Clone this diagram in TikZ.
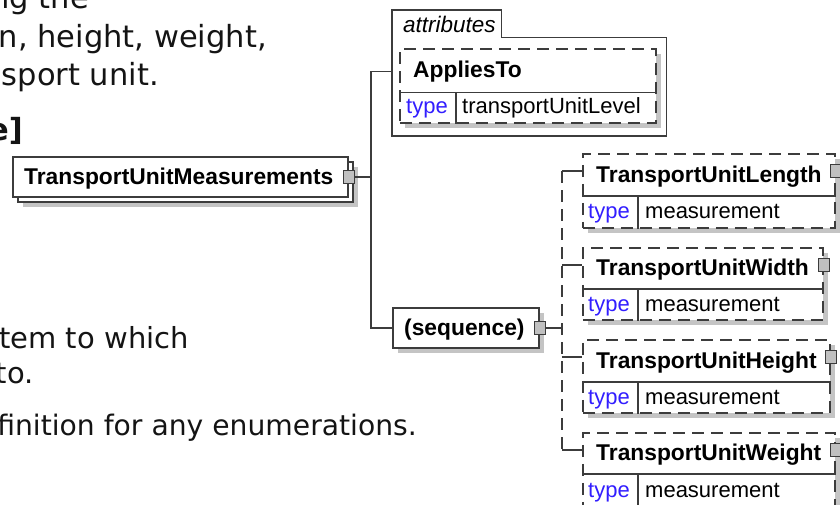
\documentclass[tikz,border=0pt]{standalone}
\usepackage{fontspec}
\setmainfont{Liberation Sans}
\newfontfamily\prosefont{DejaVu Sans}
\usetikzlibrary{positioning,shadows}
\definecolor{lncol}{RGB}{60,60,60}
\definecolor{shcol}{RGB}{196,196,196}
\definecolor{pluscol}{RGB}{192,192,192}
\definecolor{typecol}{RGB}{50,30,255}
\definecolor{prosecol}{RGB}{20,20,20}

\begin{document}
\begin{tikzpicture}[
  x=1pt, y=-1pt,
  ln/.style={draw=lncol,line width=1.7pt},
  dsh/.style={dash pattern=on 12pt off 7pt},
  frame/.style={ln,fill=white,anchor=north west,inner sep=0pt,
    drop shadow={shadow xshift=5pt,shadow yshift=-5pt,fill=shcol,opacity=1}},
  optframe/.style={frame,dsh},
  rootframe/.style={ln,fill=white,anchor=north west,inner sep=0pt,
    drop shadow={shadow xshift=10pt,shadow yshift=-10pt,fill=shcol,opacity=1},
    copy shadow={shadow xshift=5pt,shadow yshift=-5pt,draw=lncol,line width=1.7pt,fill=white}},
  nm/.style={anchor=base west,inner sep=0pt,font=\bfseries\fontsize{22.8}{27}\selectfont},
  tp/.style={anchor=base west,inner sep=0pt,text=typecol,font=\fontsize{22}{26}\selectfont},
  vl/.style={anchor=base west,inner sep=0pt,font=\fontsize{22}{26}\selectfont},
  att/.style={anchor=base west,inner sep=0pt,font=\itshape\fontsize{22.5}{26}\selectfont},
  plus/.style={draw=lncol,line width=1.2pt,fill=pluscol,minimum width=11pt,minimum height=13pt,inner sep=0pt},
  prose/.style={anchor=base east,inner sep=0pt,text=prosecol,font=\prosefont\fontsize{30.5}{36}\selectfont},
  prosesm/.style={prose,font=\prosefont\fontsize{29}{34}\selectfont}
]
\useasboundingbox (0,0) rectangle (840,504);
\clip (0,0) rectangle (840,504);

% text of the page behind the diagram
\node[prose] (p1) at (89,8) {ng the};
\node[prose] (p2) at (267,47) {n, height, weight,};
\node[prose] (p3) at (159,85) {sport unit.};
\node[prose,font=\prosefont\bfseries\fontsize{30.5}{36}\selectfont] (p4) at (23,140) {e]};
\node[prosesm] (p5) at (189,348) {tem to which};
\node[prosesm] (p6) at (34,383) {to.};
\node[prosesm,font=\prosefont\fontsize{28.2}{34}\selectfont] (p7) at (417,435) {finition for any enumerations.};

% root element
\node[rootframe,minimum width=335pt,minimum height=40pt] (rootF) at (12,156) {};
\node[nm] (rootN) at ([shift={(12,28)}]rootF.north west) {TransportUnitMeasurements};
\node[plus] (rootP) at (rootF.east) {};

% attributes group
\node[anchor=north west,inner sep=0pt,minimum width=109pt,minimum height=27pt] (attT) at (392,10) {};
\node[anchor=north west,inner sep=0pt,minimum width=274pt,minimum height=98pt] (attB) at (attT.south west) {};
\draw[ln] (attB.south west) -- (attT.north west) -- (attT.north east) -- (attT.south east)
  -- (attB.north east) -- (attB.south east) -- cycle;
\node[att] (attL) at ([shift={(11,22)}]attT.north west) {attributes};
\node[optframe,minimum width=256pt,minimum height=74pt] (appF) at ([shift={(7,11)}]attB.north west) {};
\draw[ln] ([shift={(0,44)}]appF.north west) -- ([shift={(0,44)}]appF.north east);
\draw[ln] ([shift={(57,44)}]appF.north west) -- ([shift={(57,0)}]appF.south west);
\node[nm] (appN) at ([shift={(14,29)}]appF.north west) {AppliesTo};
\node[tp] (appK) at ([shift={(7,65)}]appF.north west) {type};
\node[vl] (appV) at ([shift={(63,65)}]appF.north west) {transportUnitLevel};

% sequence
\node[frame,minimum width=146pt,minimum height=40pt] (seqF) at (392,307) {};
\node[nm] (seqN) at ([shift={(12,28)}]seqF.north west) {(sequence)};
\node[plus] (seqP) at (seqF.east) {};

% child elements
\node[optframe,minimum width=252pt,minimum height=74pt] (lenF) at (582,153) {};
\draw[ln] ([shift={(0,43)}]lenF.north west) -- ([shift={(0,43)}]lenF.north east);
\draw[ln] ([shift={(56,43)}]lenF.north west) -- ([shift={(56,0)}]lenF.south west);
\node[nm] (lenN) at ([shift={(14,29)}]lenF.north west) {TransportUnitLength};
\node[tp] (lenK) at ([shift={(6,65)}]lenF.north west) {type};
\node[vl] (lenV) at ([shift={(63,65)}]lenF.north west) {measurement};
\node[plus] (lenP) at ([shift={(0,18)}]lenF.north east) {};

\node[optframe,minimum width=240pt,minimum height=72pt] (widF) at (582,247) {};
\draw[ln] ([shift={(0,42)}]widF.north west) -- ([shift={(0,42)}]widF.north east);
\draw[ln] ([shift={(56,42)}]widF.north west) -- ([shift={(56,0)}]widF.south west);
\node[nm] (widN) at ([shift={(14,28)}]widF.north west) {TransportUnitWidth};
\node[tp] (widK) at ([shift={(6,64)}]widF.north west) {type};
\node[vl] (widV) at ([shift={(63,64)}]widF.north west) {measurement};
\node[plus] (widP) at ([shift={(0,18)}]widF.north east) {};

\node[optframe,minimum width=247pt,minimum height=73pt] (hgtF) at (582,339) {};
\draw[ln] ([shift={(0,43)}]hgtF.north west) -- ([shift={(0,43)}]hgtF.north east);
\draw[ln] ([shift={(56,43)}]hgtF.north west) -- ([shift={(56,0)}]hgtF.south west);
\node[nm] (hgtN) at ([shift={(14,29)}]hgtF.north west) {TransportUnitHeight};
\node[tp] (hgtK) at ([shift={(6,65)}]hgtF.north west) {type};
\node[vl] (hgtV) at ([shift={(63,65)}]hgtF.north west) {measurement};
\node[plus] (hgtP) at ([shift={(0,18)}]hgtF.north east) {};

\node[optframe,minimum width=252pt,minimum height=73pt] (wgtF) at (582,432) {};
\draw[ln] ([shift={(0,42)}]wgtF.north west) -- ([shift={(0,42)}]wgtF.north east);
\draw[ln] ([shift={(56,42)}]wgtF.north west) -- ([shift={(56,0)}]wgtF.south west);
\node[nm] (wgtN) at ([shift={(14,28)}]wgtF.north west) {TransportUnitWeight};
\node[tp] (wgtK) at ([shift={(6,65)}]wgtF.north west) {type};
\node[vl] (wgtV) at ([shift={(63,65)}]wgtF.north west) {measurement};
\node[plus] (wgtP) at ([shift={(0,18)}]wgtF.north east) {};

% connectors
\draw[ln] (rootP.east) -- ++(16,0) coordinate (forkA);
\draw[ln] (attB.west |- appN) -| (forkA) |- (seqF.west);
\draw[ln] (seqP.east) -- ++(16,0) coordinate (forkB);
\draw[ln,dsh] (forkB |- lenP) -- (forkB |- wgtP);
\draw[ln] (forkB |- lenP) -- (lenF.west |- lenP)
  (forkB |- widP) -- (widF.west |- widP)
  (forkB |- hgtP) -- (hgtF.west |- hgtP)
  (forkB |- wgtP) -- (wgtF.west |- wgtP);
\end{tikzpicture}
\end{document}
